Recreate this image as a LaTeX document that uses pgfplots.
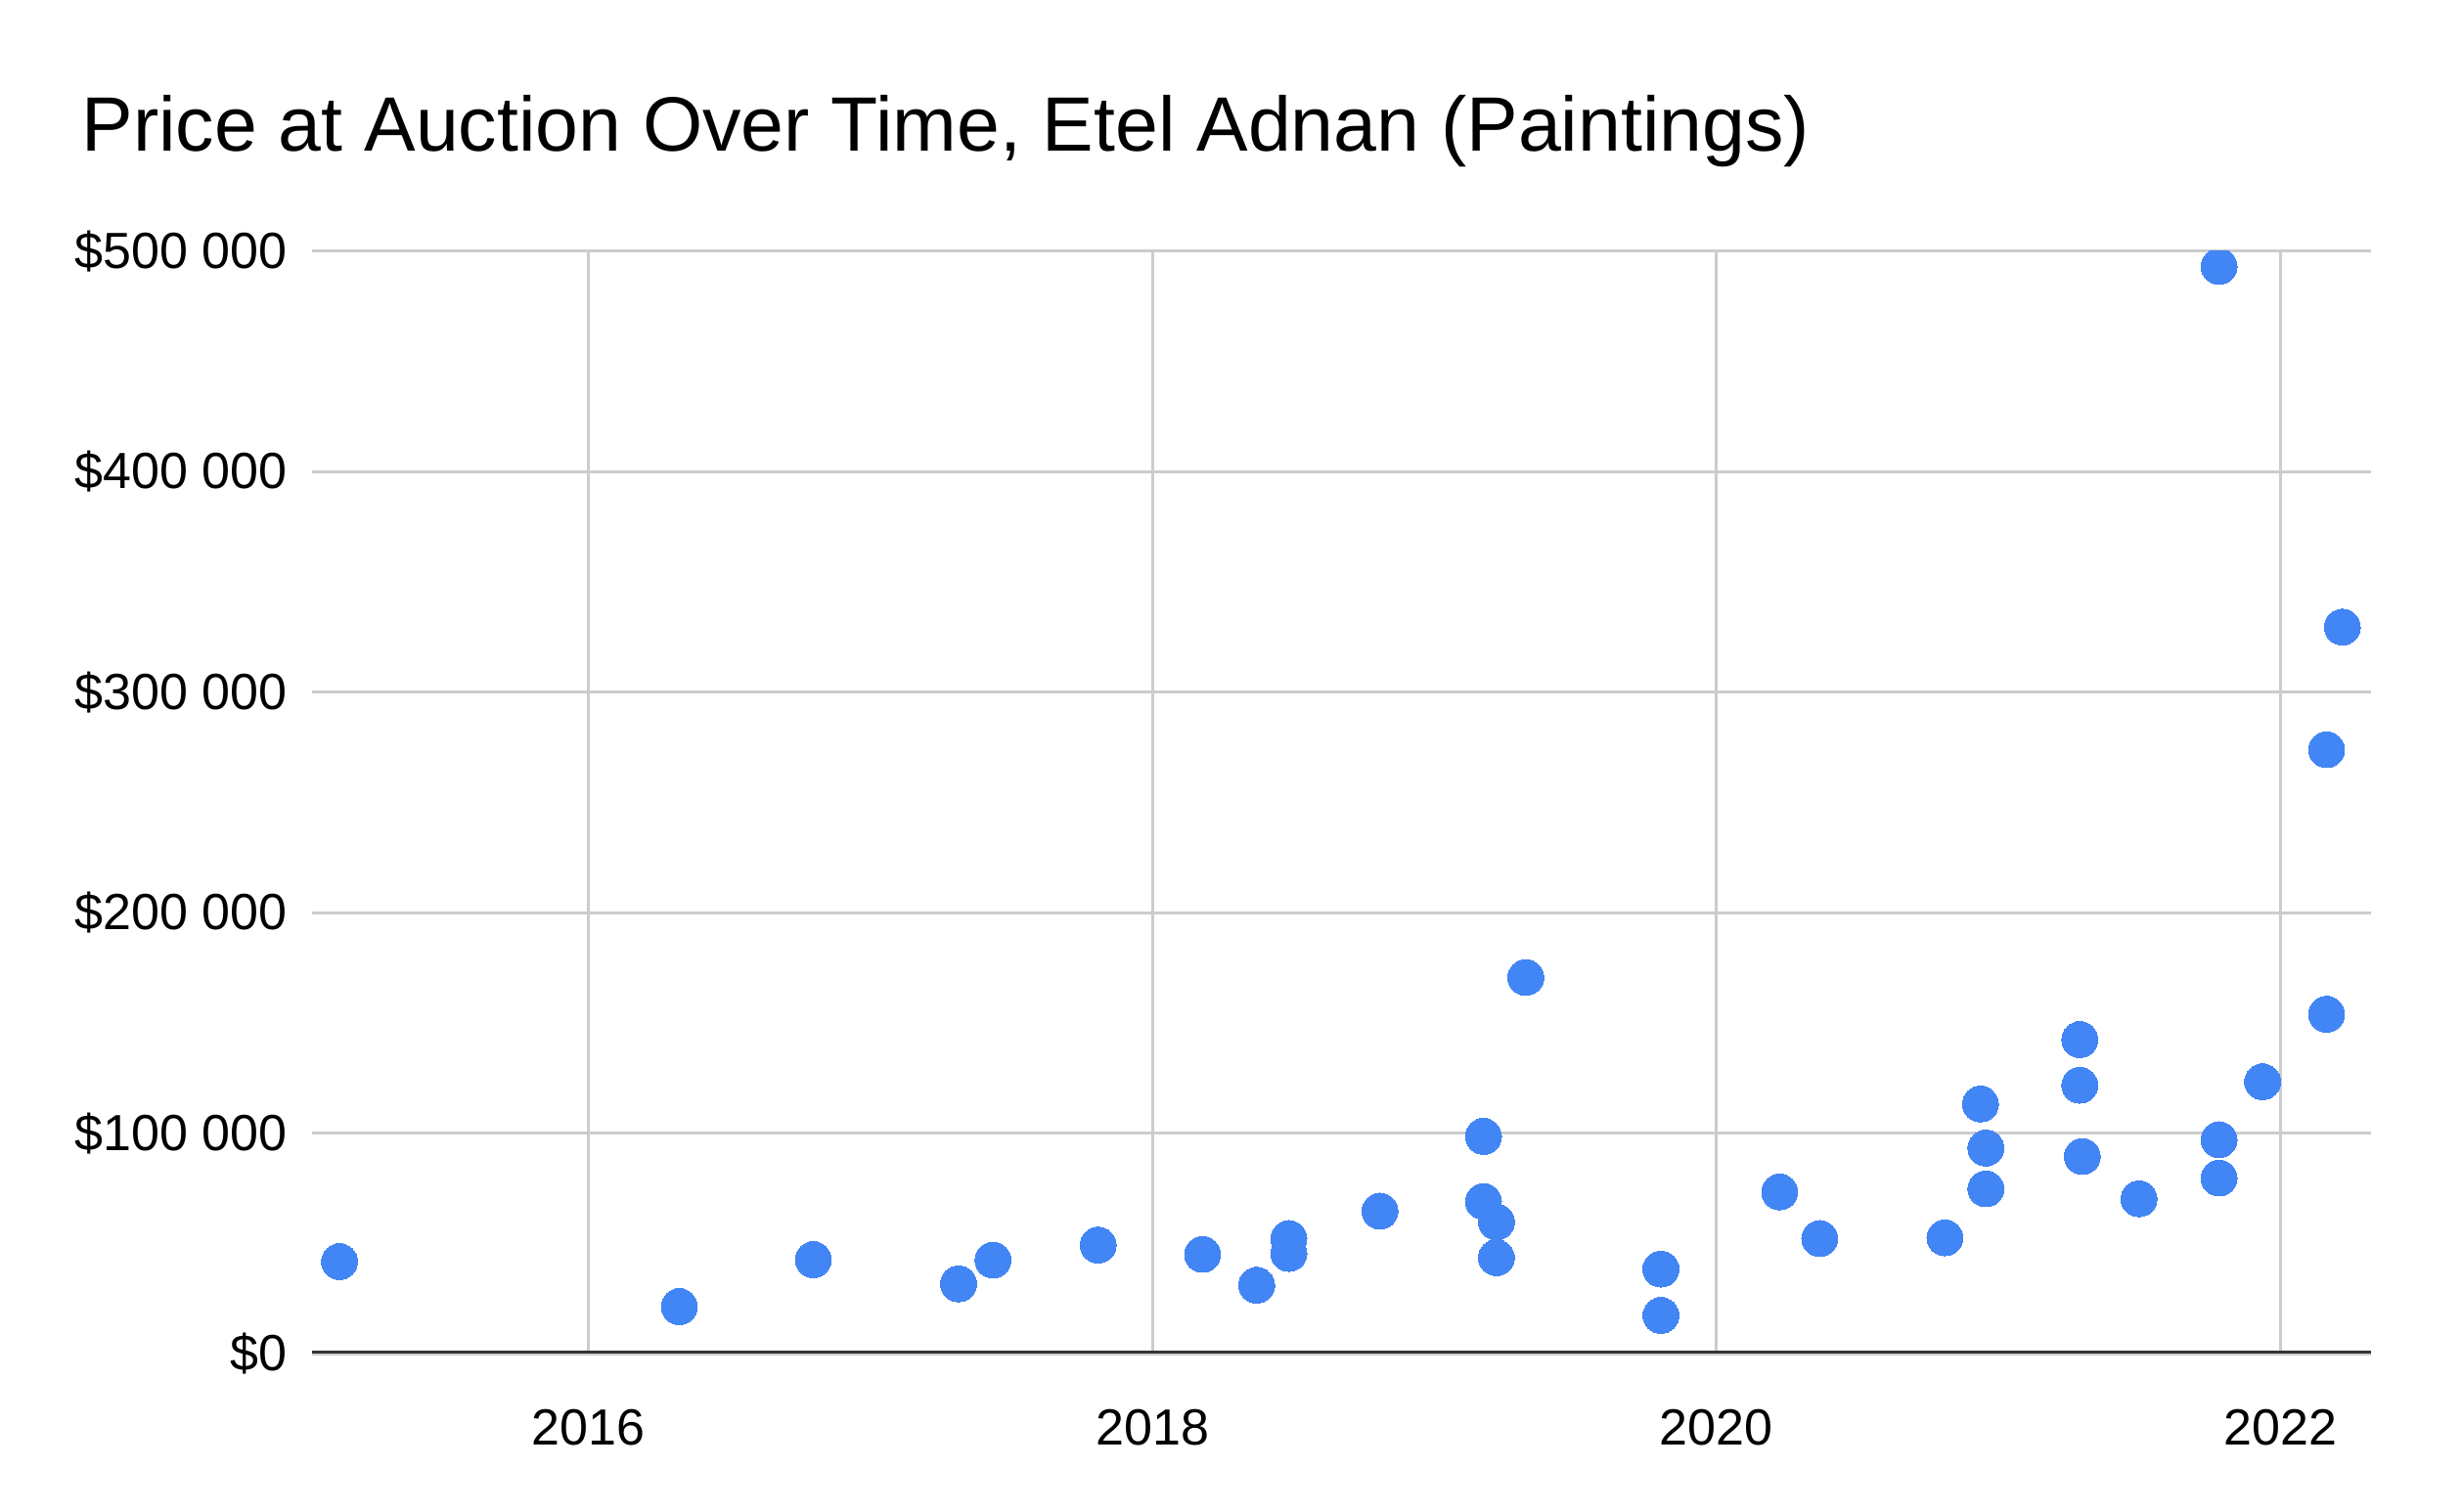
\documentclass[border=0pt]{standalone}
\usepackage{fontspec}
\setmainfont{Liberation Sans}
\usepackage{pgfplots}
\usepackage{pgfplotstable}
\pgfplotsset{compat=1.18}
\definecolor{markblue}{HTML}{4285F4}
\definecolor{gridgray}{HTML}{CCCCCC}
\definecolor{zerogray}{HTML}{333333}
\pgfplotstableread{
year price
2015.118 41700
2016.323 21300
2016.798 42600
2017.313 31600
2017.435 42400
2017.808 49200
2018.178 45000
2018.370 31000
2018.484 52200
2018.484 45400
2018.807 64600
2019.174 98500
2019.174 69000
2019.220 59700
2019.220 43500
2019.324 170600
2019.803 38300
2019.803 17300
2020.224 73300
2020.366 52200
2020.810 52500
2020.936 113200
2020.955 93200
2020.955 74700
2021.288 142400
2021.288 121700
2021.297 89400
2021.498 70200
2021.782 493100
2021.782 97000
2021.782 79600
2021.936 123300
2022.163 153900
2022.163 273900
2022.219 329500
}\pricedata
\begin{document}
\begin{tikzpicture}
\path[use as bounding box] (-79.7bp,-40.5bp) rectangle (549.55bp,346bp);
\begin{axis}[
  at={(0,0)}, anchor=south west,
  scale only axis, width=526.25bp, height=281.8bp,
  xmin=2015.02, xmax=2022.32, ymin=0, ymax=500000,
  xtick={2016,2018,2020,2022},
  xticklabels={2016,2018,2020,2022},
  ytick={0,100000,200000,300000,400000,500000},
  yticklabels={\$0,\$100 000,\$200 000,\$300 000,\$400 000,\$500 000},
  grid=major,
  major grid style={gridgray, line width=0.75bp},
  axis line style={draw=none},
  major tick length=0pt,
  tick label style={font=\fontsize{13bp}{15bp}\selectfont, text=black},
  xticklabel style={anchor=base, inner sep=0pt, yshift=-23.4bp},
  yticklabel style={anchor=east, inner sep=0pt, xshift=-6.2bp},
  clip marker paths=true,
  scaled y ticks=false,
]
\addplot[only marks, mark=*, color=markblue, mark size=4.6bp, mark options={line width=0pt}] table[x=year, y=price] {\pricedata};
\draw[zerogray, line width=1.3bp] (rel axis cs:0,0) -- (rel axis cs:1,0);
\end{axis}
\node[anchor=base west, inner sep=0pt, font=\fontsize{19.7bp}{23bp}\selectfont] at (-59bp,307.25bp) {Price at Auction Over Time, Etel Adnan (Paintings)};
\end{tikzpicture}
\end{document}
